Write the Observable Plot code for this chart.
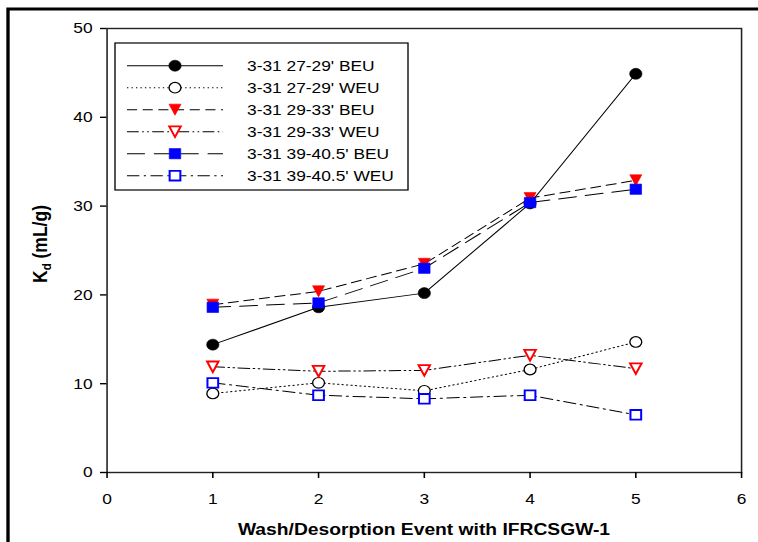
<!DOCTYPE html>
<html>
<head>
<meta charset="utf-8">
<script src="https://cdn.jsdelivr.net/npm/d3@7"></script>
<script src="https://cdn.jsdelivr.net/npm/@observablehq/plot@0.6"></script>
<style>
  html, body { margin: 0; padding: 0; background: #fff; }
  #chart { width: 758px; height: 542px; overflow: hidden; }
</style>
</head>
<body>
<div id="chart"></div>
<script>
// Wash/desorption events and Kd (mL/g) for each core interval
const events = [1, 2, 3, 4, 5];
const seriesNames = [
  "3-31 27-29' BEU",
  "3-31 27-29' WEU",
  "3-31 29-33' BEU",
  "3-31 29-33' WEU",
  "3-31 39-40.5' BEU",
  "3-31 39-40.5' WEU"
];
const beu2729 = [14.4, 18.6, 20.2, 30.3, 44.9];
const weu2729 = [8.9, 10.1, 9.2, 11.6, 14.7];
const beu2933 = [18.9, 20.4, 23.5, 30.9, 32.9];
const weu2933 = [11.9, 11.4, 11.5, 13.2, 11.7];
const beu3940 = [18.6, 19.1, 23.0, 30.4, 31.9];
const weu3940 = [10.1, 8.7, 8.3, 8.7, 6.5];
const seriesValues = [beu2729, weu2729, beu2933, weu2933, beu3940, weu3940];

const xTicks = [0, 1, 2, 3, 4, 5, 6];
const yTicks = [0, 10, 20, 30, 40, 50];

// Downward-pointing triangle symbol
const triangleDown = {
  draw(context, size) {
    const s = Math.sqrt(size);
    const w = 0.58 * s, h = 0.6 * s;
    context.moveTo(-w, -h);
    context.lineTo(w, -h);
    context.lineTo(0, h);
    context.closePath();
  }
};

// Line and marker styling per series
const styles = [
  {color: "black", symbol: "circle", filled: true, r: 5.5, dash: null},
  {color: "black", symbol: "circle", filled: false, r: 5.3, dash: "1.2,2.8"},
  {color: "#ff0000", symbol: triangleDown, filled: true, r: 5.2, dash: "9,5"},
  {color: "#ff0000", symbol: triangleDown, filled: false, r: 5.0, dash: "10.5,3,1.5,3,1.5,3"},
  {color: "#0000ff", symbol: "square", filled: true, r: 5.8, dash: "16,8"},
  {color: "#0000ff", symbol: "square", filled: false, r: 5.4, dash: "11,4,2,4"}
];

const rows = seriesNames.flatMap((name, i) =>
  events.map((e, j) => ({series: name, event: e, kd: seriesValues[i][j]}))
);

// The page is drawn on a narrower canvas and stretched horizontally to 758px
const outW = 758, H = 542;
const W = 677;
const k = outW / W;
const u = (v) => v / k;

const lineMarks = seriesNames.map((name, i) =>
  Plot.line(rows.filter((d) => d.series === name), {
    x: "event", y: "kd", stroke: "black", strokeWidth: 1,
    strokeDasharray: styles[i].dash
  })
);
const dotMarks = seriesNames.map((name, i) => {
  const s = styles[i];
  return Plot.dot(rows.filter((d) => d.series === name), {
    x: "event", y: "kd", r: s.r, symbol: s.symbol,
    fill: s.filled ? s.color : "white",
    stroke: s.color, strokeWidth: s.filled ? 0.6 : (s.symbol === "circle" ? 1.2 : 1.8)
  });
});

const svg = Plot.plot({
  width: W,
  height: H,
  marginLeft: u(106.5),
  marginRight: u(17),
  marginTop: 28,
  marginBottom: 70,
  style: {fontFamily: "'Liberation Sans', Arial, sans-serif", fontSize: "15.5px", color: "black", background: "white", overflow: "visible"},
  x: {domain: [0, 6], label: null},
  y: {domain: [0, 50], label: null},
  marks: [
    ...lineMarks,
    ...dotMarks,
    Plot.frame({stroke: "#222", strokeWidth: 1.4}),
    Plot.axisX({ticks: xTicks, tickSize: 6, tickPadding: 14, label: null, tickFormat: (d) => String(d), strokeWidth: 1.4}),
    Plot.axisY({ticks: yTicks, tickSize: u(6.5), tickPadding: u(8), label: null, tickFormat: (d) => String(d), strokeWidth: 1.4})
  ]
});

svg.setAttribute("width", outW);
svg.setAttribute("height", H);
svg.setAttribute("preserveAspectRatio", "none");
svg.style.width = outW + "px";
svg.style.height = H + "px";
svg.style.maxWidth = "none";

const root = d3.select(svg);

// Outer border of the figure
root.append("path")
  .attr("d", `M${u(8)},${H}V9H${W + 5}`)
  .attr("fill", "none")
  .attr("stroke", "black")
  .attr("stroke-width", 3);

// Axis titles
root.append("text")
  .attr("x", u(424))
  .attr("y", 535)
  .attr("text-anchor", "middle")
  .attr("font-weight", "bold")
  .attr("font-size", 17.2)
  .text("Wash/Desorption Event with IFRCSGW-1");

const yTitle = root.append("text")
  .attr("transform", `translate(${u(47)},244) rotate(-90)`)
  .attr("text-anchor", "middle")
  .attr("font-weight", "bold")
  .attr("font-size", 17.5);
yTitle.append("tspan").text("K");
yTitle.append("tspan").attr("font-size", 11.5).attr("dy", 4).text("d");
yTitle.append("tspan").attr("dy", -4).text(" (mL/g)");

// Legend
const legend = root.append("g");
legend.append("rect")
  .attr("x", u(115)).attr("y", 43)
  .attr("width", u(408 - 115)).attr("height", 190 - 43)
  .attr("fill", "white").attr("stroke", "black").attr("stroke-width", 1.2);

const symbolType = (s) =>
  s === "circle" ? d3.symbolCircle : s === "square" ? d3.symbolSquare : s;

seriesNames.forEach((name, i) => {
  const s = styles[i];
  const y = 65.7 + 22 * i;
  legend.append("line")
    .attr("x1", u(127)).attr("x2", u(223))
    .attr("y1", y).attr("y2", y)
    .attr("stroke", "black").attr("stroke-width", 1)
    .attr("stroke-dasharray", s.dash);
  legend.append("path")
    .attr("transform", `translate(${u(175)},${y})`)
    .attr("d", d3.symbol(symbolType(s.symbol), Math.PI * s.r * s.r)())
    .attr("fill", s.filled ? s.color : "white")
    .attr("stroke", s.color)
    .attr("stroke-width", s.filled ? 0.6 : (s.symbol === "circle" ? 1.2 : 1.8));
  legend.append("text")
    .attr("x", u(247)).attr("y", y)
    .attr("dy", "0.36em")
    .attr("text-anchor", "start")
    .attr("font-size", 15.5)
    .text(name);
});

document.getElementById("chart").appendChild(svg);
</script>
</body>
</html>
